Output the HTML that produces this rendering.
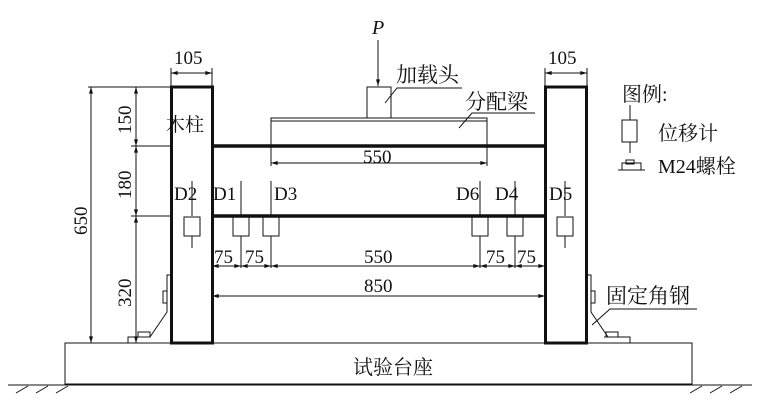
<!DOCTYPE html>
<html><head><meta charset="utf-8"><style>
html,body{margin:0;padding:0;background:#fff;}
svg{display:block}
.l{font-family:"Liberation Serif","DejaVu Serif",serif;}
.c{font-family:"Liberation Serif","Noto Serif CJK SC",serif;}
</style></head><body>
<svg width="770" height="413" viewBox="0 0 770 413" xmlns="http://www.w3.org/2000/svg">
<defs>
<marker id="a" viewBox="0 0 10 6" refX="10" refY="3" markerWidth="8" markerHeight="4" orient="auto-start-reverse"><path d="M0,0L10,3L0,6z" fill="#111"/></marker>
</defs>
<g stroke="#111" fill="none" stroke-width="1">
<rect x="65" y="343" width="627" height="41"/>
<line x1="8" y1="385" x2="752" y2="385"/>
<path d="M16,393L28,386M36,393L48,386M56,393L68,386M690,393L702,386M710,393L722,386M730,393L742,386"/>
<rect x="171.5" y="87" width="41" height="256" stroke-width="3"/>
<rect x="545.5" y="87" width="41" height="256" stroke-width="3"/>
<line x1="212" y1="146" x2="545" y2="146" stroke-width="3.5"/>
<line x1="212" y1="216" x2="545" y2="216" stroke-width="3.5"/>
<path d="M271,146V118H487V146M271,121H487"/>
<rect x="367" y="87" width="24" height="31"/>
<line x1="378" y1="40" x2="378" y2="86" marker-end="url(#a)"/>
<line x1="171" y1="73" x2="212" y2="73" marker-start="url(#a)" marker-end="url(#a)"/>
<path d="M171,68V87M212,68V87M545,68V87M587,68V87"/>
<line x1="545" y1="73" x2="587" y2="73" marker-start="url(#a)" marker-end="url(#a)"/>
<path d="M88,87H171M131,146H171M131,216H171"/>
<line x1="91" y1="87" x2="91" y2="343" marker-start="url(#a)" marker-end="url(#a)"/>
<line x1="136" y1="87" x2="136" y2="146" marker-start="url(#a)" marker-end="url(#a)"/>
<line x1="136" y1="146" x2="136" y2="216" marker-start="url(#a)" marker-end="url(#a)"/>
<line x1="136" y1="216" x2="136" y2="343" marker-start="url(#a)" marker-end="url(#a)"/>
<path d="M271,146V166M487,146V166"/>
<line x1="271" y1="163" x2="487" y2="163" marker-start="url(#a)" marker-end="url(#a)"/>
<path d="M241,181V216M271,181V216M480,181V216M515,181V216M192,181V216M565,181V216"/>
<rect x="233" y="217" width="16" height="19"/><rect x="263" y="217" width="16" height="19"/>
<rect x="472" y="217" width="16" height="19"/><rect x="507" y="217" width="16" height="19"/>
<rect x="184" y="217" width="16" height="19"/><rect x="557" y="217" width="16" height="19"/>
<path d="M192,236V248M565,236V248M241,236V268M271,236V268M480,236V268M515,236V268"/>
<line x1="212" y1="266" x2="241" y2="266" marker-start="url(#a)" marker-end="url(#a)"/>
<line x1="241" y1="266" x2="271" y2="266" marker-start="url(#a)" marker-end="url(#a)"/>
<line x1="271" y1="266" x2="480" y2="266" marker-start="url(#a)" marker-end="url(#a)"/>
<line x1="480" y1="266" x2="515" y2="266" marker-start="url(#a)" marker-end="url(#a)"/>
<line x1="515" y1="266" x2="545" y2="266" marker-start="url(#a)" marker-end="url(#a)"/>
<line x1="212" y1="296" x2="545" y2="296" marker-start="url(#a)" marker-end="url(#a)"/>
<path d="M170,275H167V312L150,337"/>
<rect x="163" y="291" width="4" height="12"/>
<rect x="138" y="332" width="12" height="5"/>
<path d="M128,343V337H136"/>
<path d="M588,275H591V312L608,337"/>
<rect x="591" y="291" width="4" height="12"/>
<rect x="606" y="332" width="12" height="5"/>
<path d="M604,337H630V343"/>
<path d="M385,103L397,88H462M459,128L472,113H535M592,325L610,309H697"/>
<path d="M630,105V120M630,142V153"/>
<rect x="622" y="120" width="15" height="22"/>
<path d="M618,170H645M622,170V163H641V170"/>
<rect x="626" y="160" width="8" height="4"/>
</g>
<g font-size="19" fill="#111" class="l">
<text class="l" x="372" y="34" font-style="italic" font-size="20">P</text>
<text class="l" x="174" y="64">105</text>
<text class="l" x="548" y="64">105</text>
<text class="l" x="363" y="163">550</text>
<text class="l" x="174" y="200">D2</text><text class="l" x="213" y="200">D1</text><text class="l" x="274" y="200">D3</text>
<text class="l" x="456" y="200">D6</text><text class="l" x="495" y="200">D4</text><text class="l" x="549" y="200">D5</text>
<text class="l" x="214" y="263">75</text><text class="l" x="245" y="263">75</text><text class="l" x="364" y="263">550</text>
<text class="l" x="486" y="263">75</text><text class="l" x="517" y="263">75</text>
<text class="l" x="364" y="292">850</text>
<text class="l" transform="translate(87,235) rotate(-90)">650</text>
<text class="l" transform="translate(131,134) rotate(-90)">150</text>
<text class="l" transform="translate(131,199) rotate(-90)">180</text>
<text class="l" transform="translate(131,307) rotate(-90)">320</text>
<text class="c" x="166" y="131" font-size="19">木柱</text>
<text class="c" x="396" y="82" font-size="21">加载头</text>
<text class="c" x="465" y="109" font-size="21">分配梁</text>
<text class="c" x="622" y="101" font-size="20">图例:</text>
<text class="c" x="658" y="140" font-size="20">位移计</text>
<text class="c" x="658" y="173" font-size="20">M24螺栓</text>
<text class="c" x="606" y="303" font-size="21">固定角钢</text>
<text class="c" x="353" y="374" font-size="20">试验台座</text>
</g>
</svg>
</body></html>
